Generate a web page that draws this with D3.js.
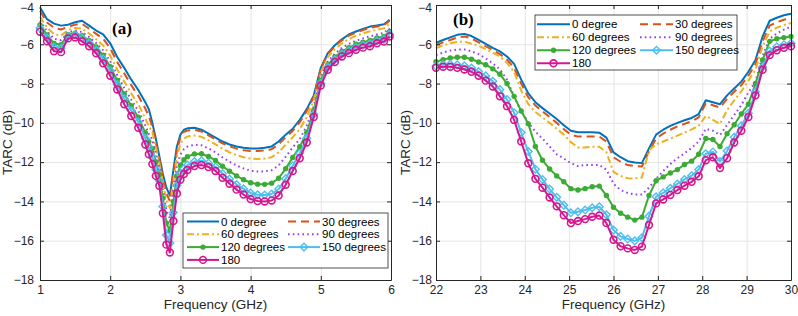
<!DOCTYPE html>
<html>
<head>
<meta charset="utf-8">
<script src="https://cdn.jsdelivr.net/npm/d3@7"></script>
<style>
  body { margin: 0; background: #fff; }
  svg { display: block; }
  text { font-family: "Liberation Sans", Arial, sans-serif; }
</style>
</head>
<body>
<div id="chart"></div>
<script>
'use strict';

// ---- data: panel (a), 1-6 GHz ----
const freqA = [1.0, 1.1, 1.2, 1.3, 1.4, 1.5, 1.6, 1.7, 1.8, 1.9, 2.0, 2.1, 2.2, 2.3, 2.4, 2.5,
  2.55, 2.6, 2.65, 2.7, 2.75, 2.8, 2.85, 2.9, 2.95, 3.0, 3.05, 3.1,
  3.2, 3.3, 3.4, 3.5, 3.6, 3.7, 3.8, 3.9, 4.0, 4.1, 4.2, 4.3, 4.4, 4.5, 4.6, 4.7, 4.8, 4.9,
  5.0, 5.1, 5.2, 5.3, 5.4, 5.5, 5.6, 5.7, 5.8, 5.9, 5.98];

const a0 = [-4.12, -4.72, -4.95, -5.05, -5.0, -4.88, -4.8, -5.05, -5.3, -5.5, -5.95, -6.65, -7.2, -7.8, -8.33, -8.95,
  -9.3, -10.0, -10.8, -11.7, -12.6, -13.3, -13.7, -12.4, -11.2, -10.6, -10.35, -10.28,
  -10.25, -10.35, -10.55, -10.75, -10.95, -11.1, -11.2, -11.27, -11.3, -11.3, -11.27, -11.2, -10.95, -10.6, -10.3, -9.85, -9.3, -8.6,
  -7.2, -6.45, -6.05, -5.75, -5.5, -5.35, -5.22, -5.1, -5.04, -4.98, -4.75];
const a30 = [-4.31, -4.89, -5.16, -5.25, -5.11, -5.0, -4.96, -5.21, -5.47, -5.72, -6.2, -6.9, -7.48, -8.08, -8.62, -9.27,
  -9.65, -10.21, -10.99, -11.85, -12.8, -13.59, -13.99, -12.66, -11.44, -10.72, -10.46, -10.39,
  -10.35, -10.44, -10.64, -10.84, -11.04, -11.2, -11.31, -11.39, -11.43, -11.43, -11.41, -11.34, -11.09, -10.73, -10.41, -9.97, -9.4, -8.67,
  -7.25, -6.5, -6.1, -5.8, -5.56, -5.41, -5.28, -5.16, -5.09, -5.03, -4.8];
const a60 = [-4.59, -5.15, -5.48, -5.56, -5.27, -5.17, -5.2, -5.45, -5.74, -6.06, -6.58, -7.28, -7.9, -8.5, -9.06, -9.77,
  -10.17, -10.46, -11.22, -12.03, -13.04, -13.94, -14.34, -12.97, -11.73, -11.06, -10.8, -10.7,
  -10.64, -10.71, -10.89, -11.09, -11.32, -11.5, -11.64, -11.75, -11.82, -11.84, -11.82, -11.75, -11.5, -11.11, -10.73, -10.32, -9.71, -8.86,
  -7.42, -6.65, -6.25, -5.96, -5.73, -5.57, -5.45, -5.34, -5.26, -5.19, -4.95];
const a90 = [-4.8, -5.34, -5.72, -5.79, -5.39, -5.3, -5.38, -5.63, -5.94, -6.31, -6.86, -7.56, -8.22, -8.82, -9.39, -10.13,
  -10.57, -10.84, -11.56, -12.3, -13.4, -14.46, -14.86, -13.44, -12.16, -11.61, -11.34, -11.21,
  -11.11, -11.14, -11.3, -11.5, -11.76, -11.98, -12.17, -12.32, -12.44, -12.48, -12.47, -12.41, -12.16, -11.72, -11.25, -10.83, -10.15, -9.15,
  -7.65, -6.88, -6.48, -6.19, -5.98, -5.82, -5.7, -5.6, -5.5, -5.42, -5.18];
const a120 = [-5.01, -5.53, -5.96, -6.02, -5.5, -5.43, -5.56, -5.81, -6.14, -6.56, -7.14, -7.84, -8.53, -9.13, -9.71, -10.5,
  -10.96, -11.3, -11.98, -12.63, -13.84, -15.1, -15.5, -14.01, -12.69, -12.16, -11.88, -11.72,
  -11.58, -11.57, -11.71, -11.91, -12.21, -12.46, -12.7, -12.89, -13.05, -13.12, -13.13, -13.07, -12.82, -12.33, -11.76, -11.22, -10.49, -9.37,
  -7.83, -7.05, -6.65, -6.36, -6.17, -6.0, -5.89, -5.8, -5.68, -5.6, -5.35];
const a150 = [-5.17, -5.68, -6.14, -6.2, -5.6, -5.53, -5.69, -5.94, -6.29, -6.75, -7.35, -8.05, -8.77, -9.37, -9.96, -10.78,
  -11.26, -11.74, -12.38, -12.95, -14.26, -15.71, -16.11, -14.56, -13.19, -12.62, -12.33, -12.15,
  -11.97, -11.93, -12.05, -12.25, -12.58, -12.86, -13.14, -13.36, -13.57, -13.66, -13.67, -13.62, -13.37, -12.84, -12.19, -11.55, -10.78, -9.56,
  -7.98, -7.19, -6.79, -6.51, -6.33, -6.16, -6.05, -5.97, -5.83, -5.75, -5.49];
const a180 = [-5.36, -5.85, -6.35, -6.4, -5.7, -5.65, -5.85, -6.1, -6.46, -6.97, -7.6, -8.3, -9.05, -9.65, -10.25, -11.1,
  -11.6, -12.1, -12.7, -13.2, -14.6, -16.2, -16.6, -15.0, -13.6, -12.9, -12.6, -12.4,
  -12.2, -12.15, -12.25, -12.45, -12.8, -13.1, -13.4, -13.65, -13.88, -13.98, -14.0, -13.95, -13.7, -13.15, -12.45, -11.8, -11.0, -9.7,
  -8.1, -7.3, -6.9, -6.62, -6.45, -6.28, -6.17, -6.1, -5.95, -5.86, -5.6];

// ---- data: panel (b), 22-30 GHz ----
const freqB = [22.0, 22.16, 22.32, 22.48, 22.64, 22.8, 22.96, 23.12, 23.28, 23.44, 23.6, 23.76, 23.92,
  24.08, 24.24, 24.4, 24.56, 24.72, 24.88, 25.04, 25.2, 25.36, 25.52, 25.68, 25.84,
  26.0, 26.16, 26.32, 26.48, 26.64, 26.8, 26.96, 27.12, 27.28, 27.44, 27.6, 27.76, 27.92,
  28.08, 28.24, 28.4, 28.56, 28.72, 28.88, 29.04, 29.2, 29.36, 29.52, 29.68, 29.84, 30.0];

const b0 = [-5.92, -5.78, -5.65, -5.52, -5.47, -5.58, -5.78, -5.98, -6.18, -6.36, -6.62, -7.0, -7.8,
  -8.5, -8.95, -9.25, -9.52, -9.8, -10.12, -10.4, -10.48, -10.48, -10.48, -10.5, -10.75,
  -11.5, -11.75, -11.95, -12.02, -12.05, -11.3, -10.6, -10.35, -10.15, -10.0, -9.87, -9.75, -9.55,
  -8.85, -8.95, -9.05, -8.6, -8.25, -7.9, -7.4, -6.8, -5.6, -4.8, -4.65, -4.52, -4.45];
const b30 = [-6.04, -5.9, -5.78, -5.65, -5.6, -5.7, -5.9, -6.1, -6.3, -6.5, -6.78, -7.2, -8.0,
  -8.7, -9.12, -9.42, -9.7, -10.0, -10.32, -10.6, -10.7, -10.7, -10.7, -10.7, -10.95,
  -11.75, -11.98, -12.15, -12.2, -12.22, -11.45, -10.8, -10.55, -10.35, -10.18, -10.05, -9.92, -9.72,
  -9.0, -9.1, -9.22, -8.78, -8.42, -8.08, -7.6, -7.0, -5.85, -5.05, -4.88, -4.75, -4.65];
const b60 = [-6.2, -6.05, -5.95, -5.88, -5.87, -5.97, -6.07, -6.25, -6.43, -6.62, -6.95, -7.4, -8.35,
  -9.05, -9.45, -9.72, -10.0, -10.3, -10.6, -10.98, -11.25, -11.25, -11.22, -11.22, -11.5,
  -12.5, -12.7, -12.82, -12.83, -12.78, -11.4, -11.1, -10.95, -10.8, -10.65, -10.5, -10.33, -10.15,
  -9.65, -9.85, -10.05, -9.35, -8.85, -8.4, -7.85, -7.3, -6.1, -5.35, -5.15, -5.02, -4.92];
const b90 = [-6.55, -6.42, -6.32, -6.27, -6.26, -6.36, -6.5, -6.72, -6.97, -7.28, -7.8, -8.67, -9.4,
  -9.98, -10.45, -10.8, -11.2, -11.6, -11.82, -12.05, -12.2, -12.15, -12.15, -12.15, -12.38,
  -13.1, -13.42, -13.57, -13.65, -13.65, -13.3, -12.85, -12.45, -12.1, -11.8, -11.55, -11.28, -10.95,
  -10.3, -10.4, -10.62, -10.1, -9.6, -9.1, -8.45, -7.9, -6.6, -5.72, -5.45, -5.25, -5.1];
const b120 = [-6.89, -6.78, -6.7, -6.66, -6.66, -6.76, -6.9, -7.04, -7.25, -7.52, -8.0, -8.65, -9.4,
  -10.05, -11.2, -11.9, -12.35, -12.7, -13.0, -13.35, -13.42, -13.35, -13.25, -13.22, -13.7,
  -14.3, -14.6, -14.8, -14.95, -14.8, -13.7, -12.95, -12.75, -12.55, -12.38, -12.12, -11.95, -11.6,
  -10.8, -10.85, -11.2, -10.55, -10.1, -9.55, -9.05, -8.0, -6.8, -5.85, -5.72, -5.66, -5.6];
const b150 = [-7.11, -7.03, -7.01, -7.04, -7.09, -7.21, -7.39, -7.61, -7.88, -8.31, -8.81, -9.49, -10.49,
  -11.46, -12.36, -12.88, -13.37, -13.79, -14.19, -14.58, -14.53, -14.44, -14.32, -14.27, -14.68,
  -15.46, -15.78, -15.91, -16.01, -15.85, -14.75, -13.76, -13.56, -13.33, -13.11, -12.88, -12.69, -12.38,
  -11.57, -11.48, -11.97, -11.43, -10.73, -10.15, -9.51, -8.42, -7.15, -6.34, -6.13, -6.02, -5.95];
const b180 = [-7.2, -7.14, -7.14, -7.2, -7.28, -7.4, -7.6, -7.85, -8.15, -8.65, -9.15, -9.85, -10.95,
  -12.06, -12.85, -13.3, -13.8, -14.25, -14.7, -15.1, -15.0, -14.9, -14.78, -14.72, -15.1,
  -15.95, -16.28, -16.39, -16.47, -16.3, -15.2, -14.1, -13.9, -13.67, -13.42, -13.2, -13.0, -12.72,
  -11.9, -11.75, -12.3, -11.8, -11.0, -10.4, -9.7, -8.6, -7.3, -6.55, -6.3, -6.18, -6.1];

const seriesNames = ['0 degree', '30 degrees', '60 degrees', '90 degrees', '120 degrees', '150 degrees', '180'];
const xTicksA = [1, 2, 3, 4, 5, 6];
const xTicksB = [22, 23, 24, 25, 26, 27, 28, 29, 30];
const yTicks = [-4, -6, -8, -10, -12, -14, -16, -18];

// ---- styles ----
const lineStyles = [
  { color: '#0072bd', dash: null, marker: null },
  { color: '#d95319', dash: '8,5', marker: null },
  { color: '#edb120', dash: '7,3,2,3', marker: null },
  { color: '#9a3ff0', dash: '1.6,3.2', marker: null },
  { color: '#3cab35', dash: null, marker: 'dot' },
  { color: '#4dbeee', dash: null, marker: 'diamond' },
  { color: '#d4178f', dash: null, marker: 'circle' },
];

const width = 798;
const height = 316;
const plotTop = 5;
const plotBottom = 280;

const svg = d3.select('#chart')
  .append('svg')
  .attr('width', width)
  .attr('height', height)
  .attr('viewBox', [0, 0, width, height]);

svg.append('rect').attr('width', width).attr('height', height).attr('fill', '#fff');

const drawMarker = (sel, style) => {
  if (style.marker === 'dot') {
    sel.append('circle').attr('r', 2.7).attr('fill', style.color);
  } else if (style.marker === 'diamond') {
    sel.append('path').attr('d', 'M0,-3.8L3.8,0L0,3.8L-3.8,0Z')
      .attr('fill', 'none').attr('stroke', style.color).attr('stroke-width', 1.4);
  } else if (style.marker === 'circle') {
    sel.append('circle').attr('r', 3.4)
      .attr('fill', 'none').attr('stroke', style.color).attr('stroke-width', 1.6);
  }
};

const drawPanel = (p) => {
  const x = d3.scaleLinear(p.xDomain, [p.left, p.right]);
  const y = d3.scaleLinear([-18, -4], [plotBottom, plotTop]);
  const g = svg.append('g');
  const h = plotBottom - plotTop;
  const w = p.right - p.left;

  // grid
  g.append('g')
    .attr('transform', `translate(0,${plotBottom})`)
    .call(d3.axisBottom(x).tickValues(p.xTicks).tickSize(-h).tickFormat(''))
    .call((s) => s.select('.domain').remove())
    .selectAll('line').attr('stroke', '#e4e4e4');
  g.append('g')
    .attr('transform', `translate(${p.left},0)`)
    .call(d3.axisLeft(y).tickValues(yTicks).tickSize(-w).tickFormat(''))
    .call((s) => s.select('.domain').remove())
    .selectAll('line').attr('stroke', '#e4e4e4');

  // series
  const line = d3.line().x((d) => x(d[0])).y((d) => y(d[1]));
  p.series.forEach((vals, i) => {
    const st = lineStyles[i];
    const pts = p.freq.map((f, j) => [f, vals[j]]);
    g.append('path')
      .datum(pts)
      .attr('d', line)
      .attr('fill', 'none')
      .attr('stroke', st.color)
      .attr('stroke-width', 2)
      .attr('stroke-dasharray', st.dash)
      .attr('stroke-linejoin', 'round');
    if (st.marker) {
      const mg = g.append('g')
        .selectAll('g')
        .data(pts)
        .join('g')
        .attr('transform', (d) => `translate(${x(d[0])},${y(d[1])})`);
      drawMarker(mg, st);
    }
  });

  // axes, MATLAB box style with inward ticks
  const axisColor = '#262626';
  const fmt = d3.format('d');
  const styleAxis = (s) => {
    s.select('.domain').attr('stroke', axisColor);
    s.selectAll('.tick line').attr('stroke', axisColor);
    s.selectAll('text').attr('fill', axisColor).style('font-size', '12px');
  };
  g.append('g').attr('transform', `translate(0,${plotBottom})`)
    .call(d3.axisBottom(x).tickValues(p.xTicks).tickFormat(fmt).tickSizeInner(-4).tickSizeOuter(0).tickPadding(5))
    .call(styleAxis);
  g.append('g').attr('transform', `translate(0,${plotTop})`)
    .call(d3.axisTop(x).tickValues(p.xTicks).tickSizeInner(-4).tickSizeOuter(0).tickFormat(''))
    .call(styleAxis);
  g.append('g').attr('transform', `translate(${p.left},0)`)
    .call(d3.axisLeft(y).tickValues(yTicks).tickFormat(fmt).tickSizeInner(-4).tickSizeOuter(0).tickPadding(p.yPad))
    .call(styleAxis)
    .call((s) => s.selectAll('text').filter((d) => d === -4).attr('dy', '0.5em'));
  g.append('g').attr('transform', `translate(${p.right},0)`)
    .call(d3.axisRight(y).tickValues(yTicks).tickSizeInner(-4).tickSizeOuter(0).tickFormat(''))
    .call(styleAxis);

  // axis titles
  g.append('text')
    .attr('x', (p.left + p.right) / 2)
    .attr('y', 309)
    .attr('text-anchor', 'middle')
    .attr('fill', axisColor)
    .style('font-size', '13.5px')
    .text('Frequency (GHz)');
  g.append('text')
    .attr('transform', `translate(${p.yLabelX},${(plotTop + plotBottom) / 2}) rotate(-90)`)
    .attr('text-anchor', 'middle')
    .attr('fill', axisColor)
    .style('font-size', '13.5px')
    .text('TARC (dB)');

  // panel tag
  g.append('text')
    .attr('x', p.tag.x)
    .attr('y', p.tag.y)
    .style('font-family', '"Liberation Serif", "Times New Roman", serif')
    .style('font-weight', 'bold')
    .style('font-size', '17px')
    .text(p.tag.text);

  // legend
  const lg = p.legend;
  g.append('rect')
    .attr('x', lg.x).attr('y', lg.y)
    .attr('width', lg.w).attr('height', lg.h)
    .attr('fill', '#fff')
    .attr('stroke', '#262626')
    .attr('stroke-width', 0.8);
  seriesNames.forEach((name, i) => {
    const st = lineStyles[i];
    const col = i % 2;
    const row = Math.floor(i / 2);
    const lx = lg.x + lg.colX[col];
    const ly = lg.y + lg.rowY0 + row * lg.rowStep;
    const e = g.append('g').attr('transform', `translate(${lx},${ly})`);
    e.append('line')
      .attr('x1', 0).attr('x2', lg.lineLen)
      .attr('stroke', st.color)
      .attr('stroke-width', 2)
      .attr('stroke-dasharray', st.dash);
    if (st.marker) {
      drawMarker(e.append('g').attr('transform', `translate(${lg.lineLen / 2},0)`), st);
    }
    e.append('text')
      .attr('x', lg.lineLen + 2)
      .attr('dy', '0.35em')
      .style('font-size', '11.5px')
      .attr('fill', '#000')
      .text(name);
  });
};

drawPanel({
  left: 40, right: 391, xDomain: [1, 6], xTicks: xTicksA, yPad: 6, yLabelX: 12,
  freq: freqA, series: [a0, a30, a60, a90, a120, a150, a180],
  tag: { x: 112, y: 34, text: '(a)' },
  legend: { x: 183, y: 213, w: 205, h: 55, colX: [4, 105], rowY0: 8.5, rowStep: 12.8, lineLen: 32 },
});

drawPanel({
  left: 436, right: 791, xDomain: [22, 30], xTicks: xTicksB, yPad: 4, yLabelX: 410,
  freq: freqB, series: [b0, b30, b60, b90, b120, b150, b180],
  tag: { x: 453, y: 25, text: '(b)' },
  legend: { x: 535, y: 15, w: 202, h: 55, colX: [2, 105], rowY0: 9.3, rowStep: 13, lineLen: 33 },
});
</script>
</body>
</html>
